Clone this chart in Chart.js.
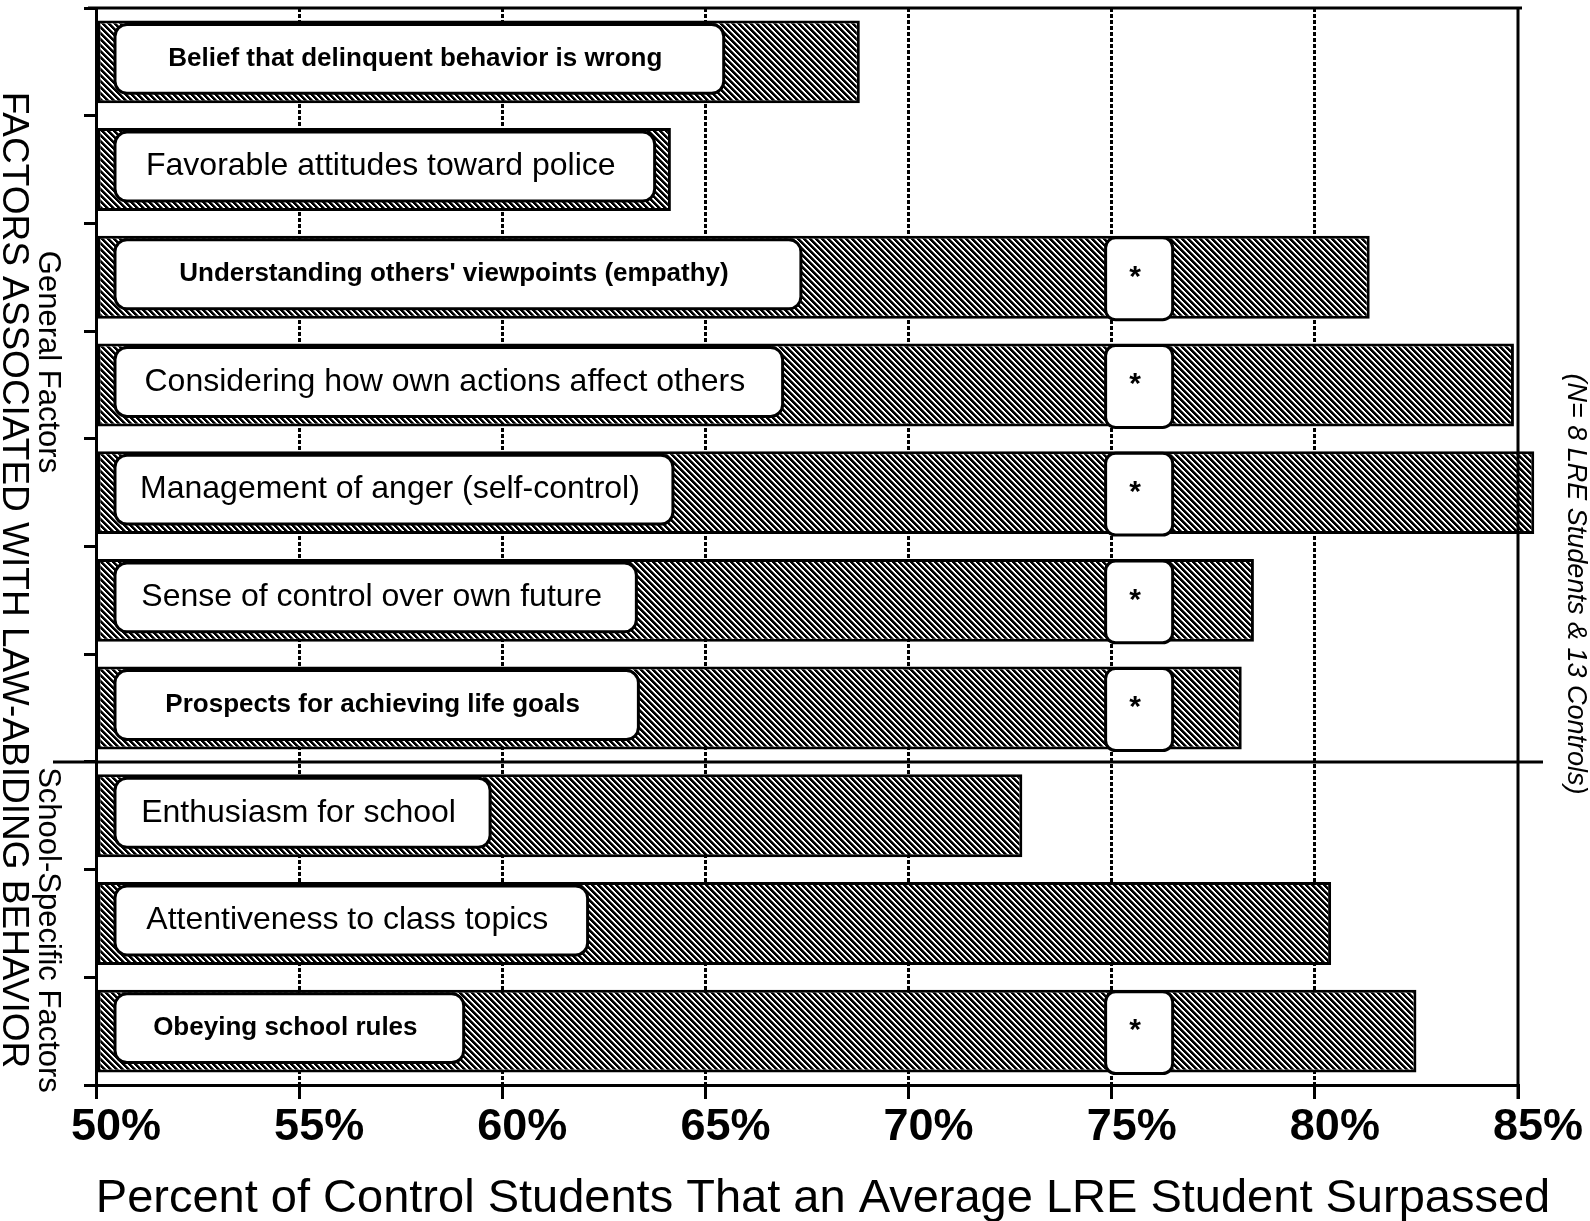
<!DOCTYPE html>
<html>
<head>
<meta charset="utf-8">
<script src="https://cdn.jsdelivr.net/npm/chart.js@4.4.1/dist/chart.umd.min.js"></script>
<style>
  html, body { margin: 0; padding: 0; background: #fff; }
  canvas { display: block; }
</style>
</head>
<body>
<canvas id="chart" width="1590" height="1221"></canvas>
<script>
// factors, top to bottom
const factors = [
  "Belief that delinquent behavior is wrong",
  "Favorable attitudes toward police",
  "Understanding others' viewpoints (empathy)",
  "Considering how own actions affect others",
  "Management of anger (self-control)",
  "Sense of control over own future",
  "Prospects for achieving life goals",
  "Enthusiasm for school",
  "Attentiveness to class topics",
  "Obeying school rules",
];
// percent of control students surpassed
const surpassed = [68.8, 64.15, 81.35, 84.9, 85.4, 78.5, 78.2, 72.8, 80.4, 82.5];
// where the white label box ends, in percent
const labelBoxEnd = [65.45, 63.75, 67.35, 66.9, 64.2, 63.3, 63.35, 59.7, 62.1, 59.05];
// asterisk = significant difference
const significant = [false, false, true, true, true, true, true, false, false, true];
const tickLabels = ["50%", "55%", "60%", "65%", "70%", "75%", "80%", "85%"];
const generalCount = 7; // first 7 are general factors, the rest school-specific

const FONT = "'Liberation Sans', Arial, Helvetica, sans-serif";
Chart.defaults.font.family = FONT;
Chart.defaults.color = "#000";

// label styles: some labels are set in a smaller bold face
const boldLabel = [true, false, true, false, false, false, true, false, false, true];

// crisp diagonal hatch, top-left to bottom-right
const makeHatch = () => {
  const s = 6;
  const c = document.createElement("canvas");
  c.width = s;
  c.height = s;
  const g = c.getContext("2d");
  g.fillStyle = "#fff";
  g.fillRect(0, 0, s, s);
  for (let y = 0; y < s; y++) {
    g.fillStyle = "#000";
    for (let k = 0; k < 3; k++) {
      g.fillRect((y + k) % s, y, 1, 1);
    }
    g.fillStyle = "#666";
    g.fillRect((y + 3) % s, y, 1, 1);
  }
  return g.createPattern(c, "repeat");
};

const labelBoxes = {
  id: "labelBoxes",
  afterDatasetsDraw(chart) {
    const ctx = chart.ctx;
    const xs = chart.scales.x;
    const meta = chart.getDatasetMeta(0);
    ctx.save();
    ctx.lineWidth = 3;
    ctx.strokeStyle = "#000";
    meta.data.forEach((bar, i) => {
      const top = bar.y - bar.height / 2;
      const bottom = bar.y + bar.height / 2;
      // label box
      const left = xs.left + 19;
      const right = xs.getPixelForValue(labelBoxEnd[i]);
      const bt = top + 4, bb = bottom - 10;
      ctx.beginPath();
      ctx.roundRect(left, bt, right - left, bb - bt, 12);
      ctx.fillStyle = "#fff";
      ctx.fill();
      ctx.stroke();
      ctx.fillStyle = "#000";
      ctx.textAlign = "center";
      ctx.textBaseline = "middle";
      ctx.font = boldLabel[i] ? `bold 26px ${FONT}` : `32px ${FONT}`;
      ctx.fillText(factors[i], (left + right) / 2 - 4, (bt + bb) / 2);
      // significance box
      if (significant[i]) {
        const sl = xs.getPixelForValue(74.85);
        const sr = xs.getPixelForValue(76.5);
        ctx.beginPath();
        ctx.roundRect(sl, top + 2, sr - sl, bottom - top - 1, 10);
        ctx.fillStyle = "#fff";
        ctx.fill();
        ctx.stroke();
        ctx.fillStyle = "#000";
        ctx.font = `bold 30px ${FONT}`;
        ctx.fillText("*", (sl + sr) / 2 - 4, (top + bottom) / 2);
      }
    });
    ctx.restore();
  },
};

const frameAndText = {
  id: "frameAndText",
  afterDraw(chart) {
    const ctx = chart.ctx;
    const a = chart.chartArea;
    const ys = chart.scales.y;
    ctx.save();
    ctx.strokeStyle = "#000";
    ctx.lineWidth = 3;
    ctx.beginPath();
    // top and right frame
    ctx.moveTo(a.left - 8, a.top);
    ctx.lineTo(a.right + 4, a.top);
    ctx.moveTo(a.right, a.top);
    ctx.lineTo(a.right, a.bottom + 14);
    // divider between general and school-specific factors
    const sepY = (ys.getPixelForValue(generalCount - 1) + ys.getPixelForValue(generalCount)) / 2;
    ctx.moveTo(53, sepY);
    ctx.lineTo(a.right + 25, sepY);
    ctx.stroke();

    ctx.fillStyle = "#000";
    const vtext = (text, x, y, font) => {
      ctx.save();
      ctx.translate(x, y);
      ctx.rotate(Math.PI / 2);
      ctx.font = font;
      ctx.textAlign = "center";
      ctx.textBaseline = "alphabetic";
      ctx.fillText(text, 0, 0);
      ctx.restore();
    };
    vtext("FACTORS ASSOCIATED WITH LAW-ABIDING BEHAVIOR", 3, 580, `37px ${FONT}`);
    vtext("General Factors", 39, 362, `31px ${FONT}`);
    vtext("School-Specific Factors", 39, 930, `31px ${FONT}`);
    vtext("(N= 8 LRE Students & 13 Controls)", 1568, 584, `italic 27px ${FONT}`);

    ctx.font = `47px ${FONT}`;
    ctx.textAlign = "center";
    ctx.textBaseline = "alphabetic";
    ctx.fillText("Percent of Control Students That an Average LRE Student Surpassed", 823, 1212);
    ctx.restore();
  },
};

const canvas = document.getElementById("chart");
const ctx = canvas.getContext("2d");

new Chart(ctx, {
  type: "bar",
  data: {
    labels: factors,
    datasets: [{
      data: surpassed,
      base: 50,
      backgroundColor: makeHatch(),
      borderColor: "#000",
      borderWidth: 3,
      borderSkipped: false,
      categoryPercentage: 1,
      barPercentage: 0.77,
      clip: false,
    }],
  },
  options: {
    indexAxis: "y",
    responsive: false,
    animation: false,
    devicePixelRatio: 1,
    layout: {
      padding: { top: 8, right: 72, left: 0, bottom: 0 },
    },
    scales: {
      x: {
        type: "linear",
        min: 50,
        max: 85,
        afterFit: (scale) => { scale.height = 136; },
        afterBuildTicks: (scale) => {
          scale.ticks = tickLabels.map((t) => ({ value: parseFloat(t) }));
        },
        ticks: {
          callback: (value, index) => tickLabels[index],
          font: { size: 45, weight: "bold" },
          padding: 2,
          labelOffset: 20,
          maxRotation: 0,
        },
        grid: {
          color: (c) => (c.tick && (c.tick.value === 50 || c.tick.value === 85)) ? "rgba(0,0,0,0)" : "#000",
          lineWidth: 3,
          tickLength: 14,
          tickColor: "#000",
          tickWidth: 3,
          tickBorderDash: [],
        },
        border: { display: true, color: "#000", width: 3, dash: [4, 2] },
      },
      y: {
        afterFit: (scale) => { scale.width = 96; },
        ticks: { display: false },
        grid: {
          drawOnChartArea: false,
          offset: true,
          tickLength: 12,
          tickColor: "#000",
          tickWidth: 3,
        },
        border: { display: true, color: "#000", width: 3 },
      },
    },
    plugins: {
      legend: { display: false },
      tooltip: { enabled: false },
      title: { display: false },
    },
  },
  plugins: [labelBoxes, frameAndText],
});
</script>
</body>
</html>
